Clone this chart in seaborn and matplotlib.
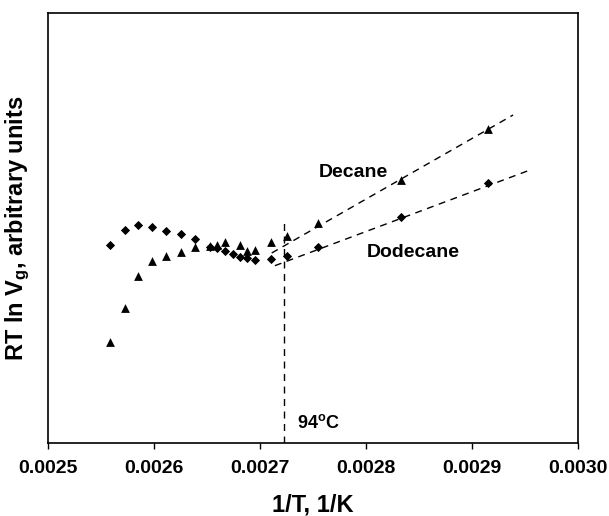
import numpy as np
import pandas as pd
import matplotlib
matplotlib.use("Agg")
import matplotlib.pyplot as plt
import seaborn as sns

# datos (1/T en 1/K, RT ln Vg en unidades arbitrarias)
inv_T_decano = [0.002558, 0.002572, 0.002585, 0.002598, 0.002611, 0.002625, 0.002639, 0.002653, 0.002659,
                0.002667, 0.002681, 0.002688, 0.002695, 0.002710, 0.002725, 0.002755, 0.002833, 0.002915]
rtlnvg_decano = [101.6, 135.6, 167.3, 182.3, 187.3, 191.6, 196.6, 197.3, 198.3,
                 201.0, 198.3, 192.6, 193.3, 201.0, 207.3, 220.0, 263.3, 314.0]

inv_T_dodecano = [0.002558, 0.002572, 0.002585, 0.002598, 0.002611, 0.002625, 0.002639, 0.002653, 0.002659,
                  0.002667, 0.002674, 0.002681, 0.002688, 0.002695, 0.002710, 0.002725, 0.002755, 0.002833, 0.002915]
rtlnvg_dodecano = [198.3, 213.3, 218.3, 216.6, 212.3, 209.3, 204.0, 196.6, 195.0,
                   192.6, 189.3, 186.6, 185.0, 183.3, 184.0, 187.6, 196.6, 226.0, 260.0]

ajuste_x_decano = [0.002711, 0.002939]
ajuste_y_decano = [190.3, 328.3]
ajuste_x_dodecano = [0.002714, 0.002955]
ajuste_y_dodecano = [177.6, 273.3]

inv_T_transicion = 0.002723
y_transicion = 220.3
etiqueta_transicion = "94$^{o}$C"

xticks = [0.0025, 0.0026, 0.0027, 0.0028, 0.0029, 0.0030]
ylim = (0, 430.6)

sns.set_style("white")
plt.rcParams['font.family'] = ['Liberation Sans', 'DejaVu Sans']
plt.rcParams['font.weight'] = 'bold'
plt.rcParams['text.color'] = 'black'
plt.rcParams['axes.labelcolor'] = 'black'
plt.rcParams['xtick.color'] = 'black'
plt.rcParams['mathtext.fontset'] = 'custom'
plt.rcParams['mathtext.rm'] = 'Liberation Sans:bold'
plt.rcParams['mathtext.it'] = 'Liberation Sans:bold'
plt.rcParams['mathtext.default'] = 'rm'

decano = pd.DataFrame({'invT': inv_T_decano, 'val': rtlnvg_decano})
dodecano = pd.DataFrame({'invT': inv_T_dodecano, 'val': rtlnvg_dodecano})

fig = plt.figure(figsize=(6.09, 5.16), dpi=100)
ax = fig.add_axes([0.0793, 0.1409, 0.8693, 0.8345])

sns.scatterplot(data=dodecano, x='invT', y='val', marker='D', s=22, color='black', linewidth=0, legend=False, ax=ax)
sns.scatterplot(data=decano, x='invT', y='val', marker='^', s=40, color='black', linewidth=0, legend=False, ax=ax)

for xs, ys in [(ajuste_x_decano, ajuste_y_decano), (ajuste_x_dodecano, ajuste_y_dodecano)]:
    sns.lineplot(x=xs, y=ys, color='black', linewidth=1, linestyle=(0, (5, 4)), ax=ax)

ax.vlines(inv_T_transicion, ylim[0], y_transicion, color='black', linewidth=1, linestyles=[(0, (5, 4))])

ax.text(0.002755, 271, "Decane", fontsize=14, fontweight='bold', ha='left', va='center')
ax.text(0.002801, 191, "Dodecane", fontsize=14, fontweight='bold', ha='left', va='center')
ax.text(0.0027345, 20, etiqueta_transicion, fontsize=13, fontweight='bold', ha='left', va='center')

ax.set_xlim(xticks[0], xticks[-1])
ax.set_ylim(*ylim)
ax.set_xticks(xticks)
ax.set_xticklabels([f"{v:.4f}" for v in xticks], fontsize=14, fontweight='bold')
ax.set_yticks([])
ax.tick_params(axis='x', direction='out', length=4, width=1, bottom=True, top=False, pad=8)
for sp in ax.spines.values():
    sp.set_color('black')
    sp.set_linewidth(1.2)

ax.set_xlabel("1/T, 1/K", fontsize=17, fontweight='bold', labelpad=12)
ax.set_ylabel("RT ln V$_g$, arbitrary units", fontsize=17, fontweight='bold', labelpad=12)

plt.savefig("out.png", dpi=100)
